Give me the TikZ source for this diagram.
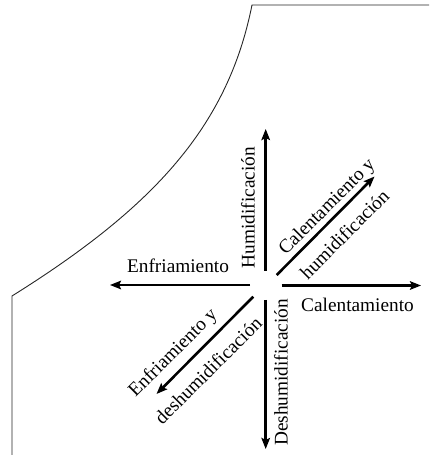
\documentclass[tikz,border=0pt]{standalone}
\usepackage{fontspec}
\setmainfont{Liberation Serif}
\usetikzlibrary{arrows.meta}
\begin{document}
\begin{tikzpicture}[x=1pt,y=1pt,
  proc/.style={line width=2.6pt,-{Stealth[length=11pt,width=8.5pt,inset=2pt]}},
  outline/.style={line width=0.9pt,black!85},
  lbl/.style={inner sep=0pt,font=\fontsize{19.3}{22}\selectfont}]
\useasboundingbox (0,0) rectangle (429,455);
% chart outline
\coordinate (tl) at (252,450);
\coordinate (tr) at (429,450);
\coordinate (bl) at (12,159);
\coordinate (bb) at (12,0);
\draw[outline] (tr) -- (tl) .. controls (228,330) and (156,249) .. (bl) -- (bb);
% arrow ends
\coordinate (uS) at (265.7,184); \coordinate (uE) at (265.7,326);
\coordinate (lS) at (250,170);   \coordinate (lE) at (110,170);
\coordinate (rS) at (281.7,169.5); \coordinate (rE) at (421,169.5);
\coordinate (dS) at (265.7,155); \coordinate (dE) at (265.7,6);
\coordinate (neS) at (276.7,180); \coordinate (neE) at (374.5,278.5);
\coordinate (swS) at (253.3,158.3); \coordinate (swE) at (156.5,61);
\draw[proc] (uS) -- (uE);
\draw[proc] (lS) -- (lE);
\draw[proc] (rS) -- (rE);
\draw[proc] (dS) -- (dE);
\draw[proc] (neS) -- (neE);
\draw[proc] (swS) -- (swE);
% labels
\node[lbl] (enf) at (178,189) {Enfriamiento};
\node[lbl,rotate=90] (hum) at (248,247.5) {Humidificación};
\node[lbl] (cal) at (357.5,150) {Calentamiento};
\node[lbl,rotate=90] (des) at (281,82.5) {Deshumidificación};
\node[lbl,rotate=45] (caly) at (327.5,247.5) {Calentamiento y};
\node[lbl,rotate=45] (humb) at (344.5,221) {humidificación};
\node[lbl,rotate=45] (enfy) at (173.5,101.5) {Enfriamiento y};
\node[lbl,rotate=45] (desb) at (208,84.5) {deshumidificación};
\end{tikzpicture}
\end{document}
